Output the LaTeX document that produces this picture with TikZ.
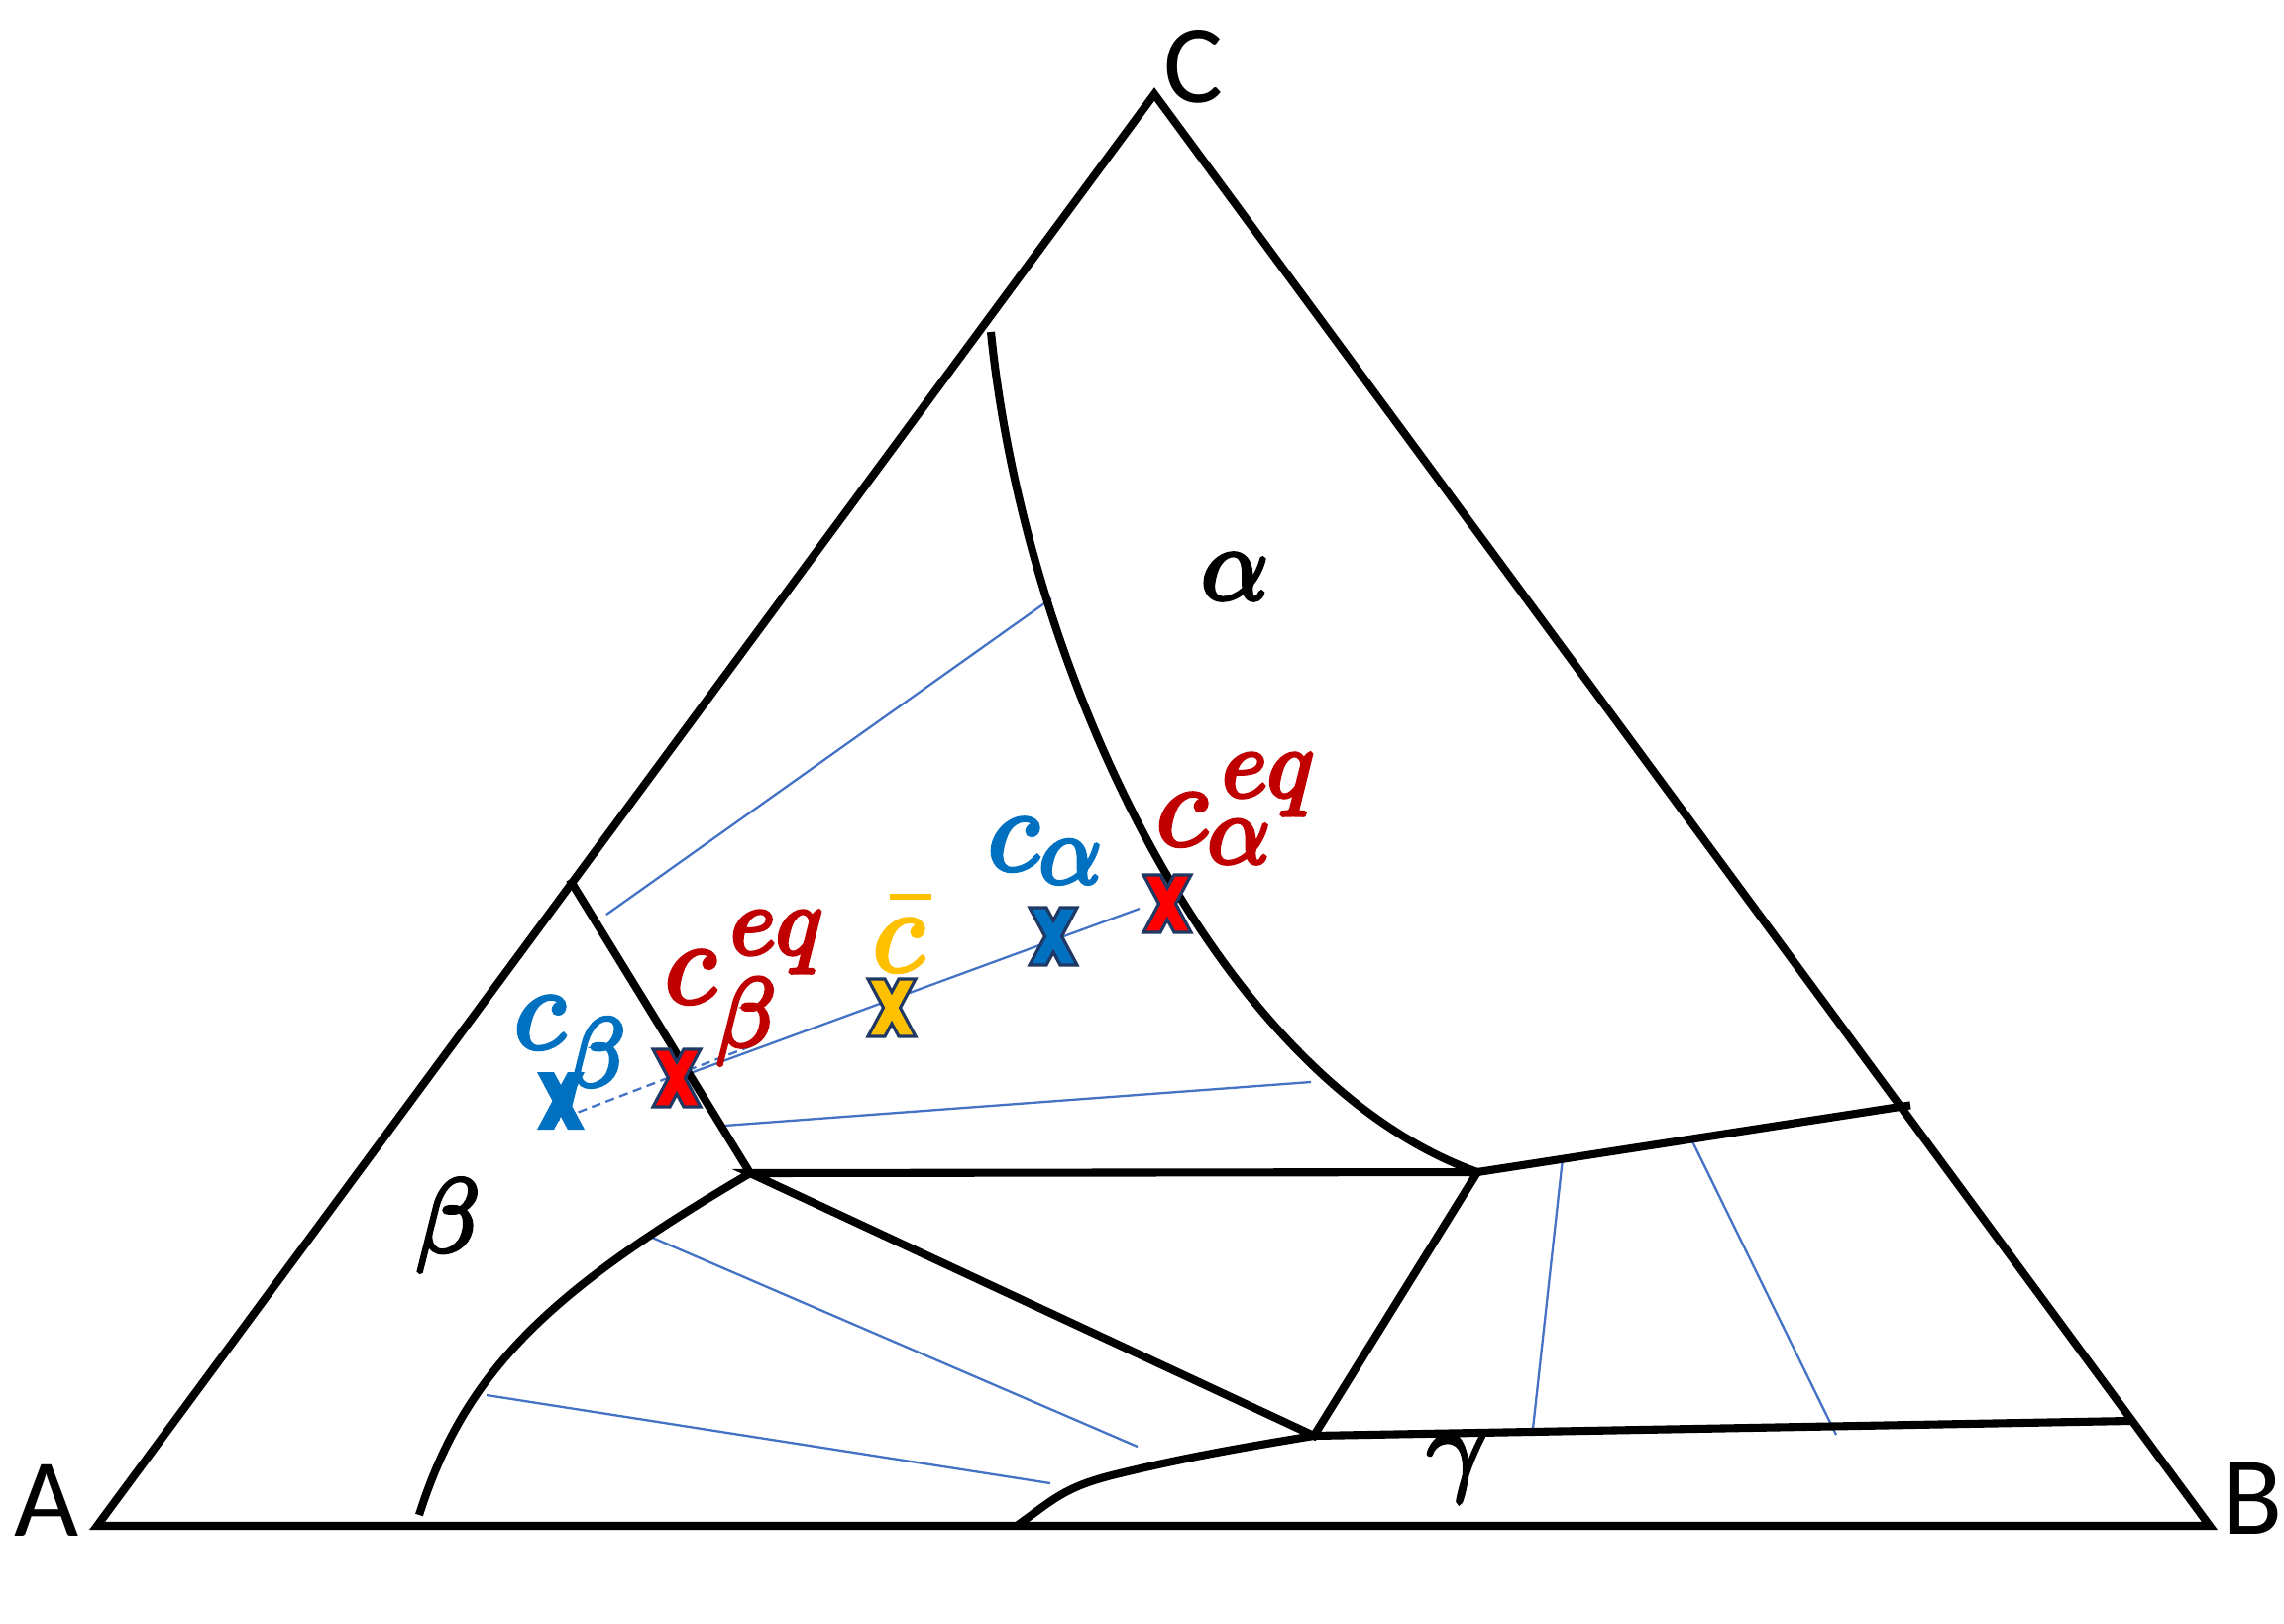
\documentclass[tikz,border=0pt]{standalone}
\usepackage{fontspec}
\usepackage{xcolor}
\usetikzlibrary{calc}
\newfontfamily\cornerfont{Carlito}
\DeclareFontShape{OML}{cmm}{m}{it}{<->cmmi10}{}
\newcommand{\heavier}[1]{\special{pdf:literal direct q 2 Tr 1.1 w}#1\special{pdf:literal direct Q}}
\definecolor{tieblue}{HTML}{4472C4}
\definecolor{labblue}{HTML}{0070C0}
\definecolor{labred}{HTML}{C00000}
\definecolor{labgold}{HTML}{FFC000}
\definecolor{xred}{HTML}{FF0000}
\definecolor{xedge}{HTML}{1F3864}
\DeclareMathSizes{34}{34}{28}{22}
\DeclareMathSizes{30}{30}{24}{18}
\tikzset{
  border/.style={line width=2.3pt,draw=black,line join=miter},
  phase/.style={line width=2.3pt,draw=black},
  tie/.style={line width=0.65pt,draw=tieblue},
  corner/.style={font=\cornerfont\fontsize{32}{36}\selectfont,inner sep=0pt},
  region/.style={font=\fontsize{30}{34}\selectfont,inner sep=0pt},
  conc/.style={font=\fontsize{34}{38}\selectfont,inner sep=0pt,anchor=base west,text=#1},
  pics/xmark/.style={code={\path[pic actions] (-24,-29) -- (-7,-29) -- (0,-16) -- (7,-29) -- (24,-29) -- (8.5,0) -- (24,29) -- (7,29) -- (0,16) -- (-7,29) -- (-24,29) -- (-8.5,0) -- cycle;}}
}

\begin{document}
\begin{tikzpicture}[x=0.01cm,y=-0.01cm]
  \path[use as bounding box,fill=white] (0,0) rectangle (2305,1639);
  \coordinate (A) at (98,1540);
  \coordinate (B) at (2230,1540);
  \coordinate (C) at (1165,95);
  \coordinate (p1) at (577,891);
  \coordinate (p2) at (757,1184);
  \coordinate (p3) at (1491,1183);
  \coordinate (p4) at (1924,1116);
  \coordinate (p5) at (1326,1449);
  \coordinate (p6) at (2150,1434);
  \coordinate (a0) at (1000,335);
  \coordinate (b0) at (423,1529);
  \coordinate (g0) at (1026,1540);
  \coordinate (g1) at (1130,1487);

  \foreach \i/\a/\b in {1/{612,923}/{1061,604},2/{731,1136}/{1323,1092},3/{656,1248}/{1148,1460},
                        4/{491,1408}/{1060,1497},5/{1577,1169}/{1547,1442},6/{1707,1150}/{1853,1448}}{
    \coordinate (t\i a) at (\a);
    \coordinate (t\i b) at (\b);
    \draw[tie] (t\i a) -- (t\i b);
  }
  \coordinate (xb) at (566,1111);
  \coordinate (xbeq) at (683,1088);
  \coordinate (xbar) at (900,1017);
  \coordinate (xa) at (1063,945);
  \coordinate (xaeq) at (1178,912);
  \coordinate (tm0) at (556,1133);
  \coordinate (tm1) at (760,1055);
  \coordinate (tm2) at (1150,917);
  \draw[tie,dash pattern=on 2.6pt off 1.6pt] (tm0) -- (tm1);
  \draw[tie] (xbeq) -- (tm2);

  \draw[border] (A) -- (B) -- (C) -- cycle;
  \draw[phase,line cap=rect] (p1) -- (p2);
  \draw[phase,line join=miter] (p2) -- (p3) -- (p5) -- cycle;
  \draw[phase,line cap=rect] (p3) -- (p4);
  \draw[phase] (p5) -- (p6);
  \draw[phase] (a0) .. controls (1035,680) and (1230,1090) .. (p3);
  \draw[phase] (b0) .. controls (470,1380) and (560,1300) .. (p2);
  \draw[phase] (g0) .. controls (1065,1512) and (1075,1500) .. (g1) .. controls (1200,1470) and (1260,1460) .. (p5);

  \pic[fill=labblue] at (xb) {xmark};
  \pic[fill=xred,draw=xedge,line width=0.9pt] at (xbeq) {xmark};
  \pic[fill=labgold,draw=xedge,line width=0.9pt] at (xbar) {xmark};
  \pic[fill=labblue,draw=xedge,line width=0.9pt] at (xa) {xmark};
  \pic[fill=xred,draw=xedge,line width=0.9pt] at (xaeq) {xmark};

  \node[corner] (lA) at (47,1514) {A};
  \node[corner] (lB) at (2273,1512) {B};
  \node[corner] (lC) at (1204,67) {C};
  \node[region] (lalpha) at (1246,582) {\heavier{$\alpha$}};
  \node[region] (lbeta) at (452,1237) {\heavier{$\beta$}};
  \node[region] (lgamma) at (1470,1482) {\heavier{$\gamma$}};

  \node[conc=labblue] (lcb) at (518,1058) {\heavier{$c_{\beta}$}};
  \node[conc=labred] (lcbeq) at (670,1012) {\heavier{$c^{\mkern3mu eq}_{\beta}$}};
  \node[conc=labgold] (lcbar) at (880,980) {\rlap{\kern4.8pt\rule[20.5pt]{12.2pt}{1.6pt}}\heavier{$c$}};
  \node[conc=labblue] (lca) at (996,878) {\heavier{$c_{\alpha}$}};
  \node[conc=labred] (lcaeq) at (1166,853) {\heavier{$c^{\mkern3mu eq}_{\alpha}$}};
\end{tikzpicture}
\end{document}
